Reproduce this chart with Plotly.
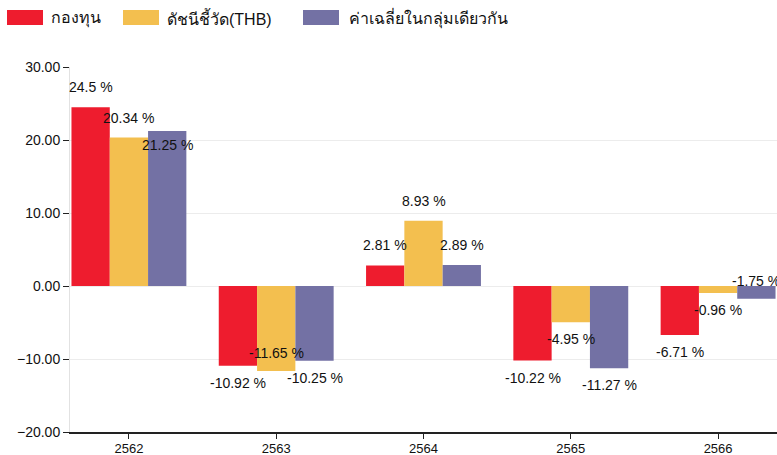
import plotly.graph_objects as go

categories = ["2562", "2563", "2564", "2565", "2566"]
series_names = ["กองทุน", "ดัชนีชี้วัด(THB)", "ค่าเฉลี่ยในกลุ่มเดียวกัน"]
fund = [24.5, -10.92, 2.81, -10.22, -6.71]
benchmark = [20.34, -11.65, 8.93, -4.95, -0.96]
peer_avg = [21.25, -10.25, 2.89, -11.27, -1.75]
y_ticks = [-20, -10, 0, 10, 20, 30]

colors = ["#EE1C2E", "#F3BF4F", "#7371A4"]
series = [fund, benchmark, peer_avg]
FONT = "Liberation Sans, Arial, Noto Sans, sans-serif"

fig = go.Figure()
for name, vals, col in zip(series_names, series, colors):
    fig.add_trace(go.Bar(x=categories, y=vals, name=name, marker_color=col,
                         marker_line_width=0, showlegend=False, hoverinfo="skip"))

# data labels (placement tweaks mimic the original's collision handling)
inside_flags = {(0, 2), (1, 1), (4, 2)}
bar_w = 0.78 / 3
annotations = []
for k, vals in enumerate(series):
    for i, v in enumerate(vals):
        inside = (i, k) in inside_flags
        if v >= 0:
            shift = -14 if inside else 20
        else:
            shift = 18 if inside else -17
        annotations.append(dict(x=i + (k - 1) * bar_w, y=v, xref="x", yref="y",
                                text=f"{v:g} %", showarrow=False, yshift=shift,
                                xanchor="center", yanchor="middle",
                                font=dict(size=14, color="#111", family=FONT)))

# manual legend
legend_x = [7, 123, 303]
text_x = [49, 165, 347]
W, H = 777, 455
shapes = []
for lx, tx, col, name in zip(legend_x, text_x, colors, series_names):
    shapes.append(dict(type="rect", xref="paper", yref="paper",
                       x0=(lx - 70) / 707, x1=(lx + 36 - 70) / 707,
                       y0=1 + (67 - 25) / 365, y1=1 + (67 - 10) / 365,
                       fillcolor=col, line_width=0))
    annotations.append(dict(x=(tx - 70) / 707, y=1 + (67 - 18) / 365, xref="paper", yref="paper",
                            text=name, showarrow=False, xanchor="left", yanchor="middle",
                            font=dict(size=16, color="#111", family=FONT)))

fig.update_layout(
    width=W, height=H,
    margin=dict(l=70, r=0, t=67, b=23),
    barmode="group", bargap=0.22, bargroupgap=0,
    plot_bgcolor="white", paper_bgcolor="white",
    font=dict(family=FONT, size=14, color="#111"),
    annotations=annotations, shapes=shapes,
    showlegend=False,
)
fig.update_xaxes(type="category", range=[-0.4, 4.4], showline=True, linecolor="#222",
                 linewidth=2, ticks="outside", ticklen=5, tickcolor="#222",
                 ticklabelstandoff=-2,
                 showgrid=False, automargin=False, tickfont=dict(size=13, color="#111"))
fig.update_yaxes(range=[-20, 30], tickvals=y_ticks, tickformat=".2f", ticks="outside",
                 ticklen=6, tickcolor="#222", showline=True, linecolor="#e2e2e2",
                 gridcolor="#ececec", zeroline=False, automargin=False,
                 tickfont=dict(size=14, color="#111"))

fig.write_html("out.html", config={"displayModeBar": False},
               post_script="document.body.style.margin='0';document.body.style.overflow='hidden';")
